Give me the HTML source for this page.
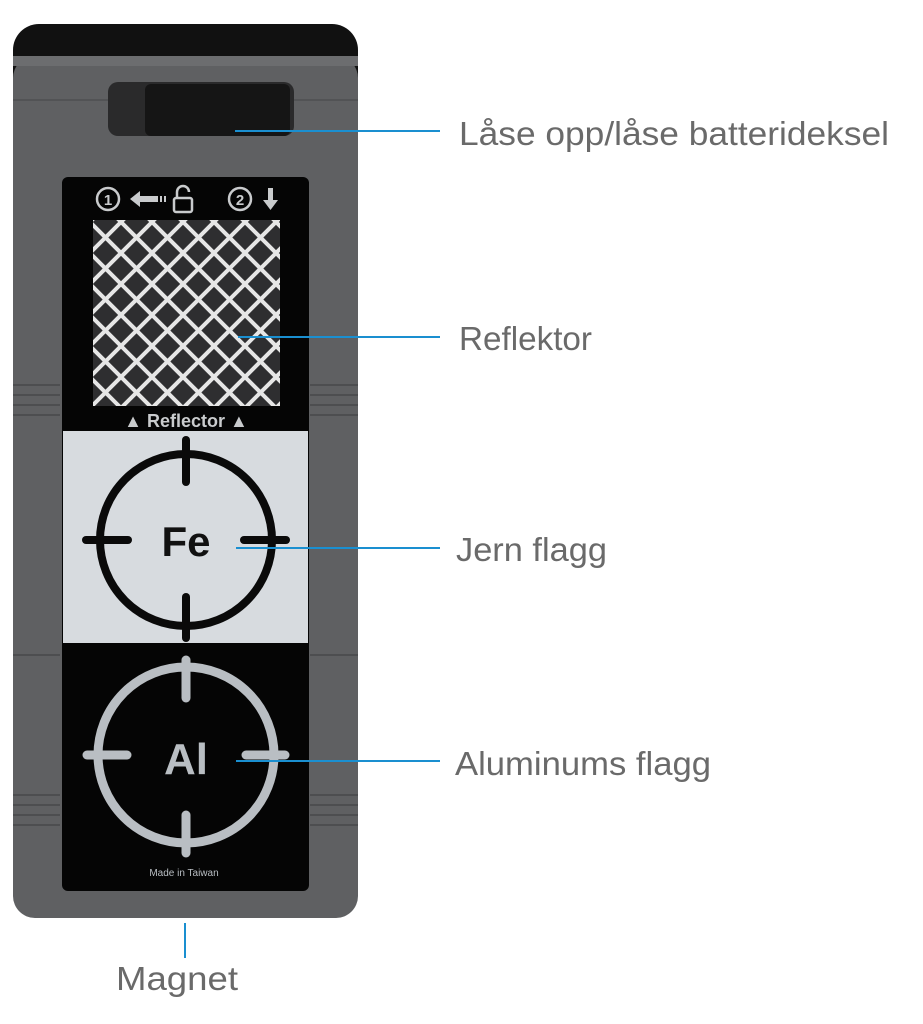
<!DOCTYPE html>
<html><head><meta charset="utf-8"><style>
html,body{margin:0;padding:0;background:#fff;width:923px;height:1024px;overflow:hidden}
svg{display:block}
.lbl{font-family:"Liberation Sans",sans-serif;font-size:33px;fill:#6a6a6a}
</style></head><body>
<svg width="923" height="1024" viewBox="0 0 923 1024" xmlns="http://www.w3.org/2000/svg">
<defs>
<pattern id="grid" x="90" y="222" width="62" height="62" patternUnits="userSpaceOnUse">
<rect width="62" height="62" fill="#2e2e30"/>
<path d="M0 31 L31 0 L62 31 L31 62 Z" fill="none" stroke="#e6e6e6" stroke-width="4"/>
<path d="M0 0 L62 62 M62 0 L0 62" fill="none" stroke="#e6e6e6" stroke-width="4"/>
</pattern>
</defs>
<rect x="13" y="24" width="345" height="894" rx="26" fill="#111"/>
<rect x="13" y="56" width="345" height="862" rx="22" fill="#5f6062"/>
<rect x="13" y="56" width="345" height="10" fill="#6c6d6f"/>
<line x1="13" y1="100" x2="358" y2="100" stroke="#525355" stroke-width="2"/>
<g stroke="#4d4e50" stroke-width="2">
<line x1="13" y1="385" x2="60" y2="385"/><line x1="13" y1="395" x2="60" y2="395"/><line x1="13" y1="405" x2="60" y2="405"/><line x1="13" y1="415" x2="60" y2="415"/>
<line x1="310" y1="385" x2="358" y2="385"/><line x1="310" y1="395" x2="358" y2="395"/><line x1="310" y1="405" x2="358" y2="405"/><line x1="310" y1="415" x2="358" y2="415"/>
<line x1="13" y1="795" x2="60" y2="795"/><line x1="13" y1="805" x2="60" y2="805"/><line x1="13" y1="815" x2="60" y2="815"/><line x1="13" y1="825" x2="60" y2="825"/>
<line x1="310" y1="795" x2="358" y2="795"/><line x1="310" y1="805" x2="358" y2="805"/><line x1="310" y1="815" x2="358" y2="815"/><line x1="310" y1="825" x2="358" y2="825"/>
<line x1="13" y1="655" x2="60" y2="655"/><line x1="310" y1="655" x2="358" y2="655"/>
</g>
<rect x="108" y="82" width="186" height="54" rx="10" fill="#2a2a2b"/>
<rect x="145" y="84" width="145" height="52" rx="6" fill="#151515"/>
<rect x="62" y="177" width="247" height="714" rx="6" fill="#050505"/>
<g fill="none" stroke="#c9cbcd" stroke-width="2.5">
<circle cx="108" cy="199" r="11"/><circle cx="240" cy="199" r="11"/>
<rect x="174" y="198" width="18" height="14" rx="2"/>
<path d="M177 198 v-6 a6 6 0 0 1 12 0"/>
</g>
<g fill="#c9cbcd" font-family="Liberation Sans,sans-serif" font-weight="bold" font-size="15" text-anchor="middle">
<text x="108" y="205">1</text><text x="240" y="205">2</text>
</g>
<path d="M130 199 l10 -8 v5 h18 v6 h-18 v5 z" fill="#c9cbcd"/>
<rect x="160" y="196" width="2" height="6" fill="#c9cbcd"/><rect x="164" y="196" width="2" height="6" fill="#c9cbcd"/>
<path d="M268 188 h5 v12 h5 l-7.5 10 l-7.5 -10 h5 z" fill="#c9cbcd"/>
<rect x="93" y="220" width="187" height="186" fill="url(#grid)"/>
<text x="186" y="427" text-anchor="middle" font-family="Liberation Sans,sans-serif" font-weight="bold" font-size="18" fill="#c9cbcd">▲ Reflector ▲</text>
<rect x="63" y="431" width="245" height="212" fill="#d7dbdf"/>
<g stroke="#0a0a0a" stroke-width="8" fill="none" stroke-linecap="round">
<circle cx="186" cy="540" r="86"/>
<line x1="186" y1="440" x2="186" y2="482"/><line x1="186" y1="597" x2="186" y2="638"/>
<line x1="86" y1="540" x2="128" y2="540"/><line x1="244" y1="540" x2="286" y2="540"/>
</g>
<text x="186" y="556" text-anchor="middle" font-family="Liberation Sans,sans-serif" font-weight="bold" font-size="42" fill="#111">Fe</text>
<g stroke="#b9bec3" stroke-width="9" fill="none" stroke-linecap="round">
<circle cx="186" cy="755" r="88"/>
<line x1="186" y1="660" x2="186" y2="698"/><line x1="186" y1="815" x2="186" y2="853"/>
<line x1="87" y1="755" x2="127" y2="755"/><line x1="246" y1="755" x2="285" y2="755"/>
</g>
<text x="186" y="774" text-anchor="middle" font-family="Liberation Sans,sans-serif" font-weight="bold" font-size="44" fill="#b9bec3">Al</text>
<text x="184" y="876" text-anchor="middle" font-family="Liberation Sans,sans-serif" font-size="10" fill="#b9bec3">Made in Taiwan</text>
<g stroke="#1a8fd0" stroke-width="2">
<line x1="235" y1="131" x2="440" y2="131"/>
<line x1="238" y1="337" x2="440" y2="337"/>
<line x1="236" y1="548" x2="440" y2="548"/>
<line x1="236" y1="761" x2="440" y2="761"/>
<line x1="185" y1="923" x2="185" y2="958"/>
</g>
<text class="lbl" x="459" y="145" textLength="430" lengthAdjust="spacingAndGlyphs">Låse opp/låse batterideksel</text>
<text class="lbl" x="459" y="350" textLength="133" lengthAdjust="spacingAndGlyphs">Reflektor</text>
<text class="lbl" x="456" y="561" textLength="151" lengthAdjust="spacingAndGlyphs">Jern flagg</text>
<text class="lbl" x="455" y="775" textLength="256" lengthAdjust="spacingAndGlyphs">Aluminums flagg</text>
<text class="lbl" x="116" y="990" textLength="122" lengthAdjust="spacingAndGlyphs">Magnet</text>
</svg>
</body></html>
